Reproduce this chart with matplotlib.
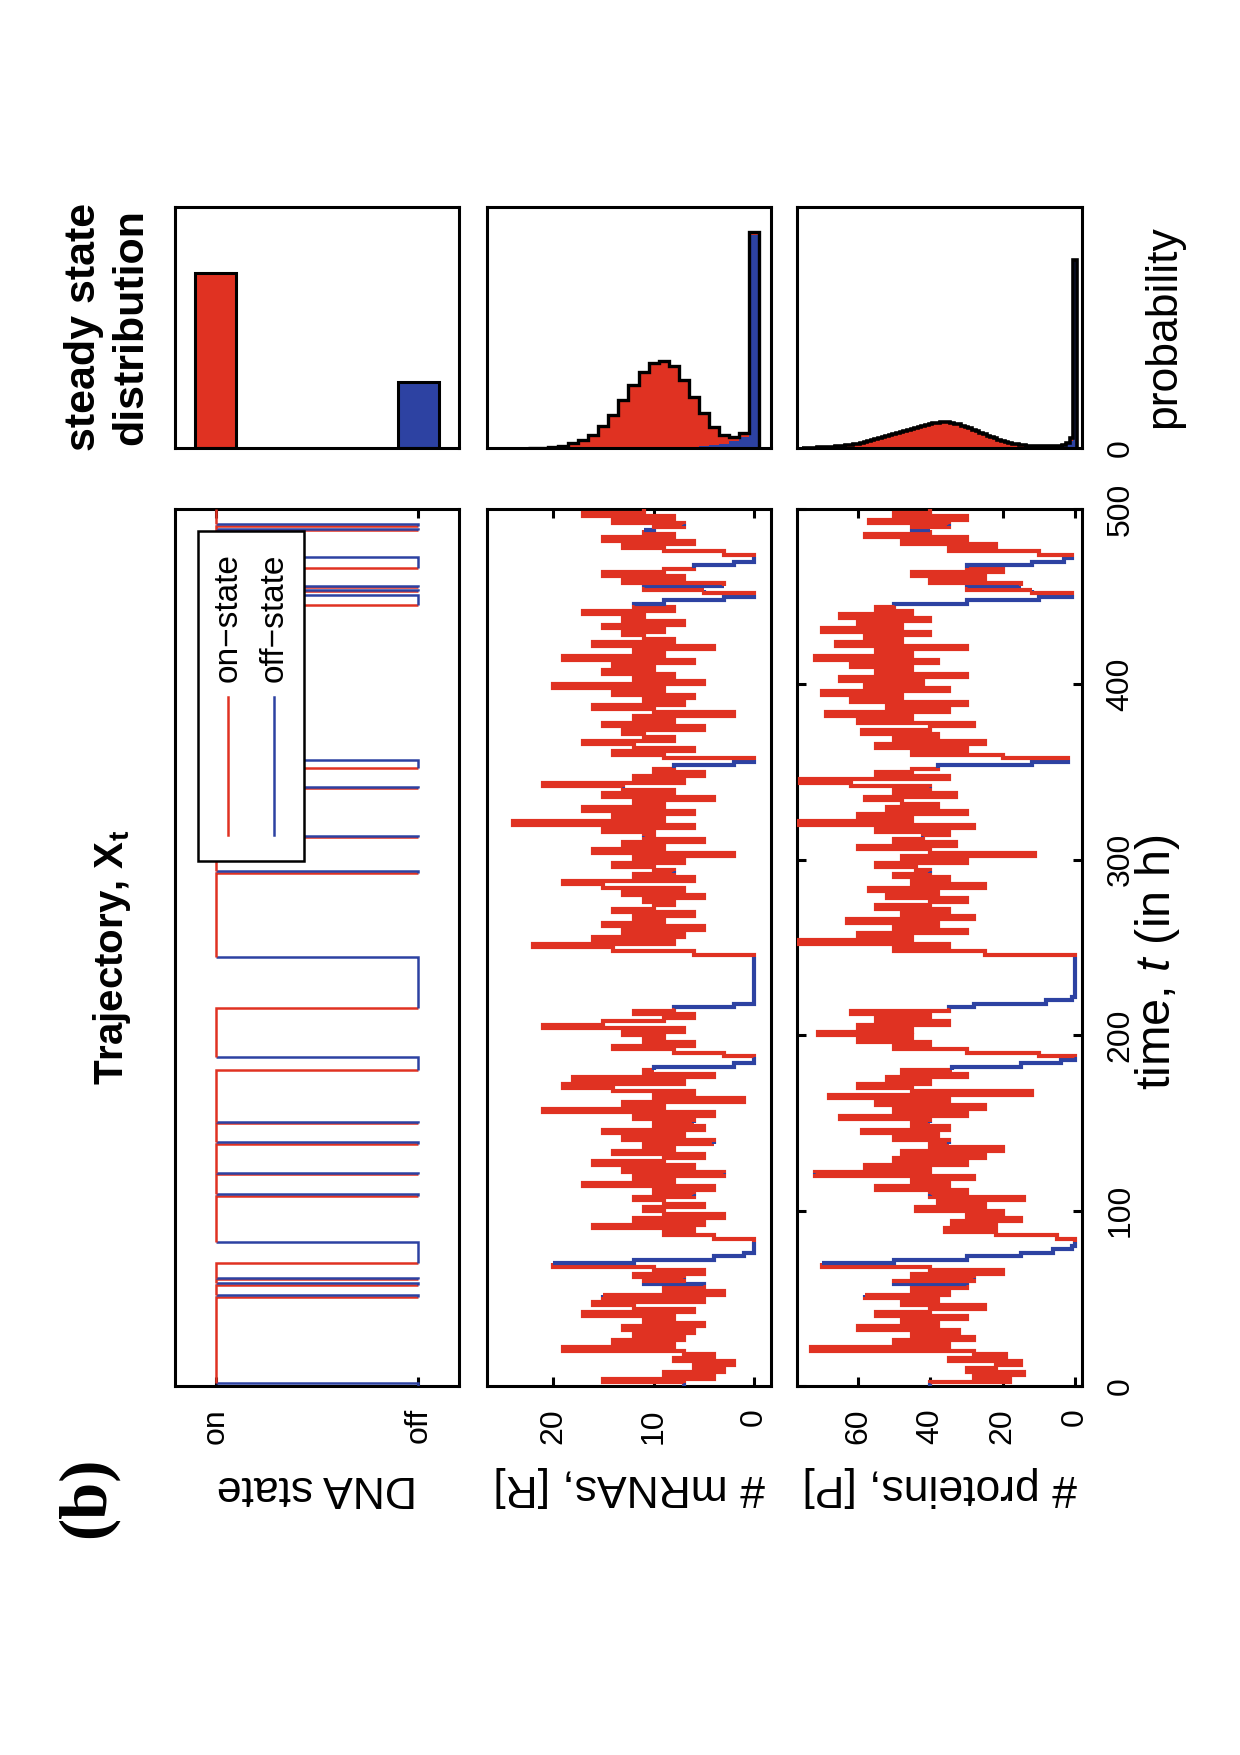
import matplotlib
matplotlib.use("Agg")
import matplotlib.pyplot as plt
from matplotlib.patches import Rectangle
import numpy as np

plt.rcParams["font.family"] = ["Liberation Sans", "DejaVu Sans"]
plt.rcParams["mathtext.fontset"] = "custom"
plt.rcParams["mathtext.rm"] = "Liberation Sans"
plt.rcParams["mathtext.it"] = "Liberation Sans:italic"
plt.rcParams["mathtext.bf"] = "Liberation Sans:bold"

RED = "#e03222"
BLUE = "#2d42a2"

T_END = 500.0
DT = 2.0  # sampling step of the mRNA / protein trajectories (h)

# DNA off-periods (h)
OFF_INTERVALS = [
    (0.0, 1.5), (50.9, 51.9), (57.4, 58.5), (61.2, 61.8), (69.9, 82.3),
    (108.3, 109.3), (120.9, 121.6), (138.0, 138.9), (150.1, 150.4),
    (180.2, 187.7), (215.3, 244.4), (292.7, 293.5), (313.0, 313.3),
    (341.0, 341.6), (352.1, 356.9), (445.3, 450.9), (453.2, 453.6),
    (455.8, 456.3), (466.5, 472.8), (487.9, 488.5), (490.2, 491.7),
]

# number of mRNAs, one value every 2 h (t = 0 ... 498)
MRNA = [
    7, 15, 4, 9, 3, 6, 2, 8, 4, 7,
    19, 8, 14, 7, 12, 6, 13, 5, 11, 8,
    17, 6, 12, 16, 5, 15, 3, 9, 5, 11,
    7, 12, 5, 10, 20, 12, 4, 1, 0, 0,
    0, 0, 4, 9, 6, 16, 5, 12, 3, 9,
    11, 5, 9, 12, 6, 10, 4, 17, 8, 12,
    3, 13, 6, 16, 9, 5, 14, 8, 11, 4,
    13, 7, 15, 5, 10, 6, 12, 4, 21, 9,
    13, 1, 10, 6, 14, 19, 7, 18, 4, 11,
    10, 2, 0, 0, 3, 8, 14, 6, 11, 9,
    13, 7, 21, 15, 9, 6, 12, 8, 2, 0,
    0, 0, 0, 0, 0, 0, 0, 0, 0, 0,
    0, 0, 0, 6, 14, 22, 8, 16, 7, 13,
    5, 15, 9, 12, 6, 14, 10, 8, 11, 5,
    13, 7, 15, 19, 6, 12, 8, 10, 14, 7,
    12, 2, 16, 9, 13, 5, 11, 10, 15, 6,
    24, 9, 14, 6, 17, 9, 12, 4, 15, 8,
    13, 21, 7, 12, 5, 10, 8, 2, 0, 9,
    14, 6, 12, 17, 8, 11, 13, 5, 15, 8,
    12, 2, 10, 16, 7, 11, 6, 14, 9, 20,
    5, 12, 8, 15, 10, 14, 6, 19, 9, 12,
    4, 16, 8, 11, 13, 9, 15, 7, 13, 11,
    17, 8, 12, 9, 3, 0, 5, 11, 3, 13,
    7, 15, 9, 6, 2, 0, 0, 3, 9, 13,
    6, 15, 8, 11, 10, 7, 14, 8, 17, 11,
]

# number of proteins, one value every 2 h (t = 0 ... 498)
PROTEIN = [
    40, 18, 28, 14, 30, 22, 15, 35, 19, 28,
    73, 35, 50, 28, 45, 32, 60, 38, 48, 30,
    55, 40, 25, 48, 38, 58, 35, 45, 30, 50,
    28, 45, 20, 40, 70, 50, 30, 15, 6, 1,
    0, 0, 5, 22, 36, 22, 34, 15, 30, 20,
    44, 25, 38, 14, 40, 30, 55, 35, 45, 28,
    72, 40, 58, 30, 50, 25, 48, 20, 40, 35,
    50, 38, 59, 35, 45, 40, 65, 30, 50, 25,
    55, 35, 68, 12, 45, 60, 40, 52, 30, 48,
    34, 15, 4, 0, 10, 30, 50, 40, 60, 45,
    71, 45, 60, 35, 55, 40, 62, 35, 28, 8,
    1, 0, 0, 0, 0, 0, 0, 0, 0, 0,
    0, 0, 0, 25, 50, 35, 77, 45, 60, 30,
    50, 38, 63, 28, 48, 35, 55, 40, 30, 52,
    38, 57, 25, 45, 35, 50, 40, 44, 55, 30,
    48, 11, 40, 60, 33, 50, 42, 35, 55, 28,
    77, 45, 60, 30, 52, 38, 48, 58, 33, 50,
    40, 62, 76, 35, 55, 45, 38, 12, 2, 20,
    45, 30, 55, 25, 50, 38, 59, 40, 28, 60,
    45, 69, 35, 52, 30, 62, 48, 70, 35, 58,
    42, 65, 30, 55, 45, 62, 38, 72, 45, 55,
    30, 66, 48, 58, 40, 70, 48, 60, 40, 65,
    45, 55, 50, 30, 10, 1, 12, 30, 15, 40,
    25, 45, 20, 30, 12, 3, 1, 10, 35, 22,
    48, 30, 58, 40, 45, 35, 57, 30, 50, 40,
]

# steady state distributions
STATE_PROB = [0.725, 0.275]  # on, off

MRNA_TOTAL = [
    0.898, 0.061, 0.047, 0.054, 0.088, 0.144, 0.213, 0.282, 0.340, 0.361,
    0.354, 0.317, 0.261, 0.199, 0.137, 0.090, 0.054, 0.033, 0.021, 0.010,
    0.004, 0.002, 0.001,
]
MRNA_OFF = [
    0.885, 0.045, 0.028, 0.018, 0.012, 0.008, 0.006, 0.005, 0.004, 0.003,
    0.003, 0.002, 0.002, 0.001, 0.0, 0.0, 0.0, 0.0, 0.0, 0.0,
    0.0, 0.0, 0.0,
]

PROTEIN_TOTAL = [
    0.780, 0.040, 0.022, 0.013, 0.010, 0.009, 0.008, 0.008, 0.008, 0.008,
    0.008, 0.008, 0.009, 0.010, 0.011, 0.013, 0.015, 0.018, 0.022, 0.026,
    0.030, 0.035, 0.040, 0.045, 0.051, 0.057, 0.063, 0.069, 0.075, 0.082,
    0.088, 0.093, 0.098, 0.101, 0.104, 0.106, 0.107, 0.107, 0.105, 0.102,
    0.099, 0.095, 0.091, 0.088, 0.084, 0.079, 0.075, 0.070, 0.066, 0.061,
    0.057, 0.052, 0.048, 0.044, 0.040, 0.036, 0.032, 0.028, 0.025, 0.022,
    0.018, 0.015, 0.012, 0.011, 0.009, 0.008, 0.007, 0.006, 0.005, 0.004,
    0.003, 0.003, 0.002, 0.002, 0.001, 0.001,
]
PROTEIN_OFF = [
    0.770, 0.030, 0.015, 0.008, 0.006, 0.005, 0.004, 0.004, 0.004, 0.004,
    0.004, 0.003, 0.003, 0.003, 0.003, 0.003, 0.003, 0.003, 0.003, 0.003,
    0.003, 0.002, 0.002, 0.002, 0.002, 0.002, 0.002, 0.002, 0.002, 0.002,
    0.002, 0.002, 0.002, 0.002, 0.002, 0.002, 0.001, 0.001, 0.001, 0.001,
    0.001, 0.001, 0.001, 0.001, 0.001, 0.001, 0.001, 0.001, 0.001, 0.001,
    0.001, 0.0, 0.0, 0.0, 0.0, 0.0, 0.0, 0.0, 0.0, 0.0,
    0.0, 0.0, 0.0, 0.0, 0.0, 0.0, 0.0, 0.0, 0.0, 0.0,
    0.0, 0.0, 0.0, 0.0, 0.0, 0.0,
]

DNA_LIM = (1.2, -0.2)
MRNA_LIM = (26.6, -1.7)
PROTEIN_LIM = (76.9, -1.9)

W, H = 1240, 1755
FRAME_LW = 2.2
TICK_FS = 23
LABEL_FS = 32


def rect(x0, y0, x1, y1):
    # pixel box (top-left origin) -> figure fraction
    return [x0 / W, 1 - y1 / H, (x1 - x0) / W, (y1 - y0) / H]


def is_off(t):
    return any(a <= t < b for a, b in OFF_INTERVALS)


def pieces(values):
    grid = np.arange(0.0, T_END + DT, DT)
    cuts = np.concatenate([grid, np.ravel(OFF_INTERVALS)])
    cuts = sorted(set(np.round(cuts, 3)))
    out = []
    for a, b in zip(cuts[:-1], cuts[1:]):
        off = is_off(0.5 * (a + b))
        if values is None:
            v = 0.0 if off else 1.0
        else:
            v = values[min(int(a // DT), len(values) - 1)]
        out.append((a, b, v, off))
    return out


def draw_trajectory(ax, values, lw):
    segs = pieces(values)
    run_x, run_y = [], []
    for i, (a, b, v, off) in enumerate(segs):
        if not run_x:
            run_x, run_y = [v], [a]
        run_x.append(v)
        run_y.append(b)
        last = i == len(segs) - 1
        if not last:
            run_x.append(segs[i + 1][2])
            run_y.append(b)
        if last or segs[i + 1][3] != off:
            ax.plot(run_x, run_y, color=BLUE if off else RED, lw=lw,
                    solid_joinstyle="miter", solid_capstyle="butt", zorder=3)
            run_x, run_y = [], []


def style_frame(ax):
    for s in ax.spines.values():
        s.set_linewidth(FRAME_LW)


def trajectory_axes(fig, box, xlim, xticks, xticklabels, show_time):
    ax = fig.add_axes(rect(*box))
    ax.set_xlim(*xlim)
    ax.set_ylim(0, T_END)
    ax.set_xticks(xticks)
    ax.set_xticklabels(xticklabels)
    ax.tick_params(axis="x", direction="in", top=True, bottom=True,
                   length=6.5, width=FRAME_LW, labelsize=TICK_FS,
                   labelrotation=90, pad=16)
    if show_time:
        ax.set_yticks([0, 100, 200, 300, 400, 500])
        ax.tick_params(axis="y", direction="in", left=True, right=True,
                       labelleft=False, labelright=True, length=6.5,
                       width=FRAME_LW, labelsize=TICK_FS, labelrotation=90,
                       pad=17)
        for lab in ax.get_yticklabels():
            lab.set_va("center")
            lab.set_ha("left")
    else:
        ax.set_yticks([])
    style_frame(ax)
    return ax


def hist_axes(fig, box, xlim):
    ax = fig.add_axes(rect(*box))
    ax.set_xlim(*xlim)
    ax.set_ylim(0, 1)
    ax.set_xticks([])
    ax.set_yticks([])
    style_frame(ax)
    return ax


def draw_stacked_hist(ax, total, off, lw):
    edges = np.arange(len(total) + 1) - 0.5
    ax.stairs(total, edges, baseline=off, fill=True, color=RED, lw=0)
    ax.stairs(off, edges, fill=True, color=BLUE, lw=0)
    ax.stairs(total, edges, color="black", lw=lw)


def main():
    fig = plt.figure(figsize=(W / 100, H / 100), dpi=100)

    top, bottom = 509, 1386
    dna_box = (175, top, 459, bottom)
    mrna_box = (487, top, 771, bottom)
    prot_box = (797, top, 1082, bottom)

    ax_dna = trajectory_axes(fig, dna_box, DNA_LIM, [1, 0], ["on", "off"], False)
    draw_trajectory(ax_dna, None, 1.8)

    ax_mrna = trajectory_axes(fig, mrna_box, MRNA_LIM, [0, 10, 20],
                              ["0", "10", "20"], False)
    draw_trajectory(ax_mrna, MRNA, 3.0)

    ax_prot = trajectory_axes(fig, prot_box, PROTEIN_LIM, [0, 20, 40, 60],
                              ["0", "20", "40", "60"], True)
    draw_trajectory(ax_prot, PROTEIN, 3.0)

    # legend, drawn by hand because the whole figure is turned on its side
    leg = Rectangle((0.081, 0.599), 0.373, 0.376, transform=ax_dna.transAxes,
                    facecolor="white", edgecolor="black", lw=1.8, zorder=5)
    ax_dna.add_patch(leg)
    for xf, color, name in [(0.187, RED, "on−state"), (0.35, BLUE, "off−state")]:
        ax_dna.plot([xf, xf], [0.628, 0.786], transform=ax_dna.transAxes,
                    color=color, lw=1.8, zorder=6)
        ax_dna.text(xf, 0.803, name, transform=ax_dna.transAxes, rotation=90,
                    ha="center", va="bottom", fontsize=24, zorder=6)

    # steady state histograms
    h_top, h_bot = 207, 448
    ax_h1 = hist_axes(fig, (175, h_top, 459, h_bot), DNA_LIM)
    ax_h1.bar([1, 0], STATE_PROB, width=0.2, color=[RED, BLUE],
              edgecolor="black", linewidth=2.2)

    ax_h2 = hist_axes(fig, (487, h_top, 771, h_bot), MRNA_LIM)
    draw_stacked_hist(ax_h2, MRNA_TOTAL, MRNA_OFF, 2.4)

    ax_h3 = hist_axes(fig, (797, h_top, 1082, h_bot), PROTEIN_LIM)
    draw_stacked_hist(ax_h3, PROTEIN_TOTAL, PROTEIN_OFF, 2.6)
    ax_h3.yaxis.set_ticks_position("right")
    ax_h3.set_yticks([0])
    ax_h3.set_yticklabels(["0"])
    ax_h3.tick_params(axis="y", length=0, labelsize=TICK_FS, labelrotation=90,
                      pad=17)
    for lab in ax_h3.get_yticklabels():
        lab.set_va("center")
        lab.set_ha("left")

    # labels
    lab_y = 1 - 1487 / H
    for box, text in [(dna_box, "DNA state"), (mrna_box, "# mRNAs, [R]"),
                      (prot_box, "# proteins, [P]")]:
        cx = (box[0] + box[2]) / 2 / W
        fig.text(cx, lab_y, text, rotation=180, ha="center", va="center",
                 fontsize=LABEL_FS)

    fig.text(1158 / W, 1 - 962 / H, "time, $t$ (in h)", rotation=90,
             ha="center", va="center", fontsize=35)
    fig.text(1164 / W, 1 - 327 / H, "probability", rotation=90,
             ha="center", va="center", fontsize=LABEL_FS)

    fig.text(112 / W, 1 - 957 / H, r"Trajectory, $\mathbf{X}_{\mathbf{t}}$",
             rotation=90, ha="center", va="center", fontsize=29,
             fontweight="bold")
    fig.text(84 / W, 1 - 327 / H, "steady state", rotation=90, ha="center",
             va="center", fontsize=31, fontweight="bold")
    fig.text(131 / W, 1 - 327 / H, "distribution", rotation=90, ha="center",
             va="center", fontsize=31, fontweight="bold")
    fig.text(87 / W, 1 - 1497 / H, "(b)", rotation=90, ha="center",
             va="center", fontsize=48, fontweight="bold",
             family=["Liberation Serif", "DejaVu Serif"])

    fig.savefig("out.png", dpi=100)


if __name__ == "__main__":
    main()
